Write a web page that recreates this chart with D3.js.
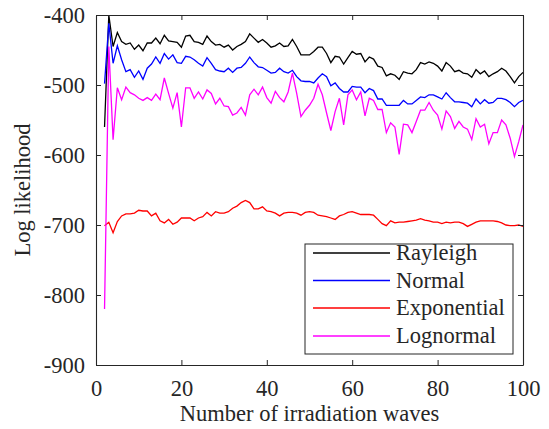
<!DOCTYPE html>
<html>
<head>
<meta charset="utf-8">
<script src="https://cdn.jsdelivr.net/npm/d3@7"></script>
<style>
  html, body { margin: 0; padding: 0; background: #fff; }
  svg { display: block; }
  text { font-family: "Liberation Serif", "Times New Roman", serif; fill: #262626; }
</style>
</head>
<body>
<svg id="chart" width="549" height="429"></svg>
<script>
// ---- data ----
const waves = d3.range(2, 101); // number of irradiation waves (x = 2..100)

const rayleigh = [
  -560,-400,-445,-425,-438,-442,-440,-449,-443,-451,
  -440,-440,-433,-441,-429,-437,-438,-439,-446,-430,
  -429,-438,-439,-442,-430,-438,-443,-442,-446,-443,
  -450,-445,-442,-438,-427,-433,-439,-435,-440,-446,
  -444,-440,-445,-444,-435,-445,-457,-457,-457,-452,
  -446,-446,-455,-468,-459,-460,-470,-461,-452,-456,
  -455,-467,-460,-463,-473,-475,-487,-484,-486,-492,
  -481,-483,-484,-478,-468,-470,-467,-469,-473,-480,
  -468,-473,-481,-479,-483,-484,-489,-478,-484,-480,
  -488,-484,-481,-476,-480,-488,-497,-488,-482
];
const normal = [
  -498,-412,-469,-444,-464,-481,-478,-489,-480,-492,
  -476,-470,-460,-469,-455,-463,-457,-468,-469,-459,
  -460,-464,-469,-473,-461,-469,-478,-480,-481,-476,
  -482,-476,-475,-469,-460,-468,-474,-475,-479,-483,
  -482,-476,-481,-483,-479,-488,-494,-495,-495,-497,
  -490,-484,-488,-501,-497,-505,-510,-510,-502,-503,
  -503,-511,-505,-508,-520,-520,-529,-529,-529,-529,
  -522,-527,-527,-522,-517,-518,-514,-514,-517,-520,
  -511,-518,-524,-524,-525,-526,-531,-520,-527,-521,
  -526,-525,-519,-519,-521,-525,-531,-525,-522
];
const exponential = [
  -701,-696,-711,-695,-687,-684,-684,-683,-679,-680,
  -680,-687,-683,-694,-697,-692,-699,-696,-690,-690,
  -690,-694,-690,-688,-682,-687,-681,-683,-683,-681,
  -676,-673,-668,-665,-668,-677,-677,-674,-680,-681,
  -683,-687,-683,-682,-682,-683,-686,-682,-681,-682,
  -686,-687,-688,-690,-692,-687,-685,-682,-681,-683,
  -685,-685,-685,-686,-692,-698,-701,-694,-697,-696,
  -696,-695,-694,-693,-691,-693,-694,-696,-696,-698,
  -696,-697,-696,-696,-698,-702,-699,-696,-694,-694,
  -694,-694,-695,-697,-700,-701,-701,-700,-702
];
const lognormal = [
  -820,-445,-578,-504,-521,-503,-511,-514,-519,-522,
  -518,-522,-513,-521,-490,-512,-533,-511,-560,-504,
  -504,-519,-510,-520,-507,-512,-527,-519,-530,-531,
  -543,-540,-532,-543,-514,-506,-514,-503,-518,-526,
  -509,-518,-524,-510,-483,-512,-545,-536,-529,-519,
  -499,-514,-540,-565,-538,-519,-557,-514,-507,-521,
  -510,-544,-519,-522,-535,-535,-568,-554,-560,-599,
  -556,-557,-568,-552,-536,-536,-525,-536,-543,-563,
  -537,-545,-562,-552,-560,-563,-578,-548,-560,-556,
  -584,-568,-568,-550,-557,-576,-602,-581,-557
];

const seriesNames = ["Rayleigh", "Normal", "Exponential", "Lognormal"];
const seriesValues = [rayleigh, normal, exponential, lognormal];
const seriesColors = ["#000000", "#0000ff", "#ff0000", "#ff00ff"];

const xTicks = [0, 20, 40, 60, 80, 100];
const yTicks = [-900, -800, -700, -600, -500, -400];
const xLabel = "Number of irradiation waves";
const yLabel = "Log likelihood";

// ---- layout ----
const svg = d3.select("#chart");
const L = 96, T = 15, R = 523, B = 365;
const axisColor = "#262626";
const fontSize = 22.5;

const x = d3.scaleLinear().domain([0, 100]).range([L, R]);
const y = d3.scaleLinear().domain([-900, -400]).range([B, T]);

svg.append("defs").append("clipPath").attr("id", "clip")
  .append("rect").attr("x", L).attr("y", T - 1).attr("width", R - L).attr("height", B - T + 1);

// lines
const line = d3.line()
  .x((d, i) => x(waves[i]))
  .y(d => y(d));

const plot = svg.append("g").attr("clip-path", "url(#clip)");
seriesValues.forEach((vals, k) => {
  plot.append("path")
    .datum(vals)
    .attr("fill", "none")
    .attr("stroke", seriesColors[k])
    .attr("stroke-width", 1.3)
    .attr("stroke-linejoin", "miter")
    .attr("d", line);
});

// axes
const tickLen = 5;
function styleAxis(g) {
  g.select(".domain").attr("stroke", axisColor).attr("stroke-width", 1.1);
  g.selectAll(".tick line").attr("stroke", axisColor).attr("stroke-width", 1);
  g.selectAll(".tick text")
    .style("font-family", '"Liberation Serif", "Times New Roman", serif')
    .style("font-size", fontSize + "px")
    .attr("fill", axisColor);
}

const xAxisB = svg.append("g").attr("transform", `translate(0,${B})`)
  .call(d3.axisBottom(x).tickValues(xTicks).tickFormat(d => String(d))
    .tickSizeInner(-tickLen).tickSizeOuter(0).tickPadding(15));
styleAxis(xAxisB);

const xAxisT = svg.append("g").attr("transform", `translate(0,${T})`)
  .call(d3.axisTop(x).tickValues(xTicks).tickFormat("")
    .tickSizeInner(-tickLen).tickSizeOuter(0));
styleAxis(xAxisT);

const yAxisL = svg.append("g").attr("transform", `translate(${L},0)`)
  .call(d3.axisLeft(y).tickValues(yTicks).tickFormat(d => String(d))
    .tickSizeInner(-tickLen).tickSizeOuter(0).tickPadding(11));
styleAxis(yAxisL);

const yAxisR = svg.append("g").attr("transform", `translate(${R},0)`)
  .call(d3.axisRight(y).tickValues(yTicks).tickFormat("")
    .tickSizeInner(-tickLen).tickSizeOuter(0));
styleAxis(yAxisR);

// axis labels
svg.append("text")
  .attr("x", (L + R) / 2).attr("y", 421)
  .attr("text-anchor", "middle")
  .style("font-size", fontSize + "px")
  .text(xLabel);

svg.append("text")
  .attr("transform", `translate(30,${(T + B) / 2}) rotate(-90)`)
  .attr("text-anchor", "middle")
  .style("font-size", fontSize + "px")
  .text(yLabel);

// legend
const lg = svg.append("g");
lg.append("rect")
  .attr("x", 305).attr("y", 244).attr("width", 208).attr("height", 110)
  .attr("fill", "#fff").attr("stroke", axisColor).attr("stroke-width", 1);
const rowY = [253, 280.5, 308, 336];
seriesNames.forEach((name, k) => {
  lg.append("line")
    .attr("x1", 313).attr("x2", 390)
    .attr("y1", rowY[k]).attr("y2", rowY[k])
    .attr("stroke", seriesColors[k]).attr("stroke-width", 1.3);
  lg.append("text")
    .attr("x", 396).attr("y", rowY[k])
    .attr("dy", "0.33em")
    .style("font-size", fontSize + "px")
    .attr("fill", "#000")
    .text(name);
});
</script>
</body>
</html>
